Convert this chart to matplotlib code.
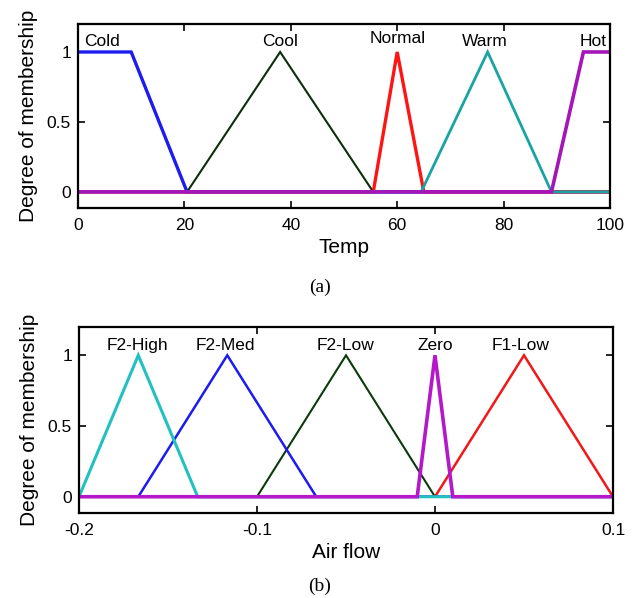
import matplotlib
matplotlib.use("Agg")
import matplotlib.pyplot as plt
import numpy as np

plt.rcParams['font.family'] = ['Liberation Sans', 'DejaVu Sans']

# ---- data: panel (a) Temp ----
temp_names = ["Cold", "Cool", "Normal", "Warm", "Hot"]
temp_params = [[0, 0, 10, 20.5], [20.5, 38, 38, 55.5], [55.5, 60, 60, 65],
               [64.5, 77, 77, 89], [89, 95, 100, 100]]
temp_colors = ["#1c1cf0", "#0b2e0b", "#ff1414", "#1aa3a3", "#a416b8"]
temp_lw = [2.4, 1.5, 2.4, 2.0, 2.6]
temp_label_x = [4.5, 38, 60, 76.5, 96.8]
temp_label_y = [1.04, 1.04, 1.065, 1.04, 1.04]
temp_range = [0, 100]
temp_ticks = [0, 20, 40, 60, 80, 100]

# ---- data: panel (b) Air flow ----
air_names = ["F1-Low", "F2-Low", "F2-Med", "F2-High", "Zero"]
air_params = [[0, 0.05, 0.05, 0.1], [-0.1, -0.05, -0.05, 0.0],
              [-0.1667, -0.1167, -0.1167, -0.0667], [-0.2, -0.1667, -0.1667, -0.1333],
              [-0.01, 0.0, 0.0, 0.01]]
air_colors = ["#f01818", "#0b3b0b", "#1c1cf0", "#22c0c0", "#b418c8"]
air_lw = [1.8, 1.5, 1.8, 2.2, 2.6]
air_label_x = [0.048, -0.05, -0.118, -0.167, 0.0]
air_label_y = [1.04, 1.04, 1.04, 1.04, 1.04]
air_range = [-0.2, 0.1]
air_ticks = [-0.2, -0.1, 0, 0.1]
air_ticklabels = ["-0.2", "-0.1", "0", "0.1"]

yticks = [0, 0.5, 1]
yticklabels = ["0", "0.5", "1"]


def mf_line(p, rng):
    a, b, c, d = p
    xs, ys = [], []
    if a == b == rng[0]:
        xs += [a]; ys += [1]
    else:
        xs += [rng[0], a, b]; ys += [0, 0, 1]
    if c == d == rng[1]:
        xs += [c]; ys += [1]
    else:
        xs += [c, d, rng[1]]; ys += [1, 0, 0]
    return xs, ys


fig = plt.figure(figsize=(6.34, 5.98), dpi=100)
ax1 = fig.add_axes([78/634, 1-208/598, (610-78)/634, (208-24)/598])
ax2 = fig.add_axes([79/634, 1-513/598, (613-79)/634, (513-327)/598])


def style(ax, rng, xticks, xticklabels, xlabel):
    ax.set_xlim(rng)
    ax.set_ylim(-0.115, 1.2)
    ax.set_xticks(xticks)
    ax.set_xticklabels(xticklabels)
    ax.set_yticks(yticks)
    ax.set_yticklabels(yticklabels)
    ax.tick_params(direction='in', length=5, width=1.2, top=True, right=True,
                   labelsize=12.5, color='black')
    ax.tick_params(axis='x', pad=7)
    ax.tick_params(axis='y', pad=5)
    for s in ax.spines.values():
        s.set_linewidth(1.6)
    ax.set_xlabel(xlabel, fontsize=15, labelpad=4)
    ax.set_ylabel("Degree of membership", fontsize=15, labelpad=6)


for i, p in enumerate(temp_params):
    xs, ys = mf_line(p, temp_range)
    ax1.plot(xs, ys, color=temp_colors[i], lw=temp_lw[i], solid_joinstyle='miter')
    ax1.text(temp_label_x[i], temp_label_y[i], temp_names[i], ha='center', va='baseline', fontsize=12.5)
style(ax1, temp_range, temp_ticks, [str(t) for t in temp_ticks], "Temp")

for i, p in enumerate(air_params):
    xs, ys = mf_line(p, air_range)
    ax2.plot(xs, ys, color=air_colors[i], lw=air_lw[i], solid_joinstyle='miter')
    ax2.text(air_label_x[i], air_label_y[i], air_names[i], ha='center', va='baseline', fontsize=12.5)
style(ax2, air_range, air_ticks, air_ticklabels, "Air flow")

fig.text(320/634, 1-287/598, "(a)", ha='center', va='center', fontsize=14, family='Liberation Serif')
fig.text(320/634, 1-586/598, "(b)", ha='center', va='center', fontsize=14, family='Liberation Serif')

fig.savefig("out.png", dpi=100, facecolor='white')
